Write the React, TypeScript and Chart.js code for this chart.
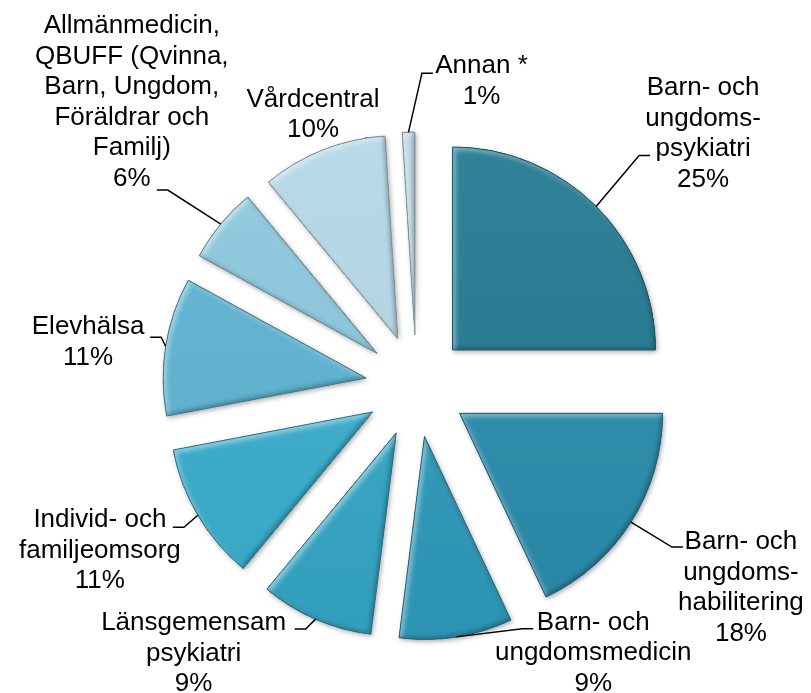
import React, { useEffect, useRef } from 'react';
import { Chart, registerables } from 'chart.js';

Chart.register(...registerables);

// ---- data ----
const categories: string[] = [
  'Barn- och\nungdoms-\npsykiatri',
  'Barn- och\nungdoms-\nhabilitering',
  'Barn- och\nungdomsmedicin',
  'Länsgemensam\npsykiatri',
  'Individ- och\nfamiljeomsorg',
  'Elevhälsa',
  'Allmänmedicin,\nQBUFF (Qvinna,\nBarn, Ungdom,\nFöräldrar och\nFamilj)',
  'Vårdcentral',
  'Annan *',
];
const shares: number[] = [25, 18, 9, 9, 11, 11, 6, 10, 1];

// ---- styles ----
const sliceColors: string[] = [
  '#237a91', '#2a8cab', '#2e99b9', '#34a5c5', '#39adcc',
  '#5db3d1', '#8cc8de', '#b4d8e7', '#bad6e2',
];
// text block (centre x, first baseline) relative to the slice's outer mid point
const labelOffsets: number[][] = [
  [107, -111], [110, 27], [137, -7], [-122, 11], [-98, 12],
  [-77.5, -12], [-89, -191], [-10, -43], [73, -59],
];
// end of the leader line's horizontal stub, relative to the slice's outer mid point
const leaderEnds: (number[] | null)[] = [
  [54, -51], [52, 25], [77, -8], [-21, 10], [-25, 12],
  [-15.5, -9], [-64, -34], null, [24.4, -59],
];
const EXPLODE = 51;
const RADIUS = 203;
const STUB = 11;
const FONT_SIZE = 26;
const LINE_H = 30.5;

function shade(hex: string, amt: number): string {
  const n = parseInt(hex.slice(1), 16);
  const t = amt < 0 ? 0 : 255;
  const p = Math.abs(amt);
  const c = [(n >> 16) & 255, (n >> 8) & 255, n & 255].map((v) => Math.round(v + (t - v) * p));
  return `rgb(${c[0]},${c[1]},${c[2]})`;
}

function slicePoint(arc: any) {
  const { x, y, startAngle, endAngle, outerRadius } = arc.getProps(
    ['x', 'y', 'startAngle', 'endAngle', 'outerRadius'],
    true,
  );
  const mid = (startAngle + endAngle) / 2;
  const cx = x + Math.cos(mid) * EXPLODE;
  const cy = y + Math.sin(mid) * EXPLODE;
  return {
    cx, cy, startAngle, endAngle, outerRadius,
    px: cx + Math.cos(mid) * outerRadius,
    py: cy + Math.sin(mid) * outerRadius,
  };
}

function innerShadow(ctx: CanvasRenderingContext2D, path: Path2D, color: string, blur: number, ox: number, oy: number) {
  ctx.save();
  ctx.clip(path);
  const outer = new Path2D();
  outer.rect(-2000, -2000, 5000, 5000);
  outer.addPath(path);
  ctx.shadowColor = color;
  ctx.shadowBlur = blur;
  ctx.shadowOffsetX = ox;
  ctx.shadowOffsetY = oy;
  ctx.fillStyle = '#000';
  ctx.fill(outer, 'evenodd');
  ctx.restore();
}

const explodedPie = {
  id: 'explodedPie',
  beforeDatasetDraw(chart: any, args: any) {
    const ctx: CanvasRenderingContext2D = chart.ctx;
    args.meta.data.forEach((arc: any, i: number) => {
      const { cx, cy, startAngle, endAngle, outerRadius } = slicePoint(arc);
      const base = sliceColors[i];
      const path = new Path2D();
      path.moveTo(cx, cy);
      path.arc(cx, cy, outerRadius, startAngle, endAngle);
      path.closePath();

      // fill with soft drop shadow
      ctx.save();
      const grad = ctx.createLinearGradient(cx, cy - outerRadius, cx, cy + outerRadius);
      grad.addColorStop(0, shade(base, 0.06));
      grad.addColorStop(1, shade(base, -0.04));
      ctx.shadowColor = 'rgba(0,0,0,0.35)';
      ctx.shadowBlur = 5;
      ctx.shadowOffsetX = 1.5;
      ctx.shadowOffsetY = 2;
      ctx.fillStyle = grad;
      ctx.fill(path);
      ctx.restore();

      // soft bevel
      innerShadow(ctx, path, 'rgba(255,255,255,0.45)', 5, 3, 3);
      innerShadow(ctx, path, 'rgba(0,0,0,0.28)', 4, -2, -2);

      ctx.save();
      ctx.lineWidth = 1;
      ctx.strokeStyle = shade(base, -0.28);
      ctx.stroke(path);
      ctx.restore();
    });
    return false;
  },
  afterDatasetsDraw(chart: any) {
    const ctx: CanvasRenderingContext2D = chart.ctx;
    const meta = chart.getDatasetMeta(0);
    ctx.save();
    ctx.font = `${FONT_SIZE}px "Liberation Sans", Arial, sans-serif`;
    ctx.fillStyle = '#000';
    ctx.textAlign = 'center';
    ctx.textBaseline = 'alphabetic';
    ctx.strokeStyle = '#000';
    ctx.lineWidth = 1.5;
    meta.data.forEach((arc: any, i: number) => {
      const { px, py } = slicePoint(arc);
      const lines = [...categories[i].split('\n'), `${shares[i]}%`];
      const [dx, dy] = labelOffsets[i];
      lines.forEach((t, k) => ctx.fillText(t, px + dx, py + dy + k * LINE_H));
      const end = leaderEnds[i];
      if (end) {
        const ex = px + end[0];
        const ey = py + end[1];
        const sign = dx >= 0 ? 1 : -1;
        ctx.beginPath();
        ctx.moveTo(px, py);
        ctx.lineTo(ex - sign * STUB, ey);
        ctx.lineTo(ex, ey);
        ctx.stroke();
      }
    });
    ctx.restore();
  },
};

export default function App() {
  const ref = useRef<HTMLCanvasElement | null>(null);
  useEffect(() => {
    if (!ref.current) return;
    const chart = new Chart(ref.current, {
      type: 'pie',
      data: {
        labels: categories,
        datasets: [
          {
            data: shares,
            backgroundColor: sliceColors,
            borderWidth: 0,
            radius: RADIUS,
          } as any,
        ],
      },
      options: {
        animation: false,
        responsive: false,
        radius: RADIUS,
        layout: { padding: { left: 22, right: 0, top: 79, bottom: 0 } },
        plugins: {
          legend: { display: false },
          tooltip: { enabled: false },
        },
      } as any,
      plugins: [explodedPie],
    });
    return () => chart.destroy();
  }, []);
  return (
    <div style={{ position: 'fixed', left: 0, top: 0, width: 811, height: 693, background: '#fff' }}>
      <canvas ref={ref} width={811} height={693} />
    </div>
  );
}
